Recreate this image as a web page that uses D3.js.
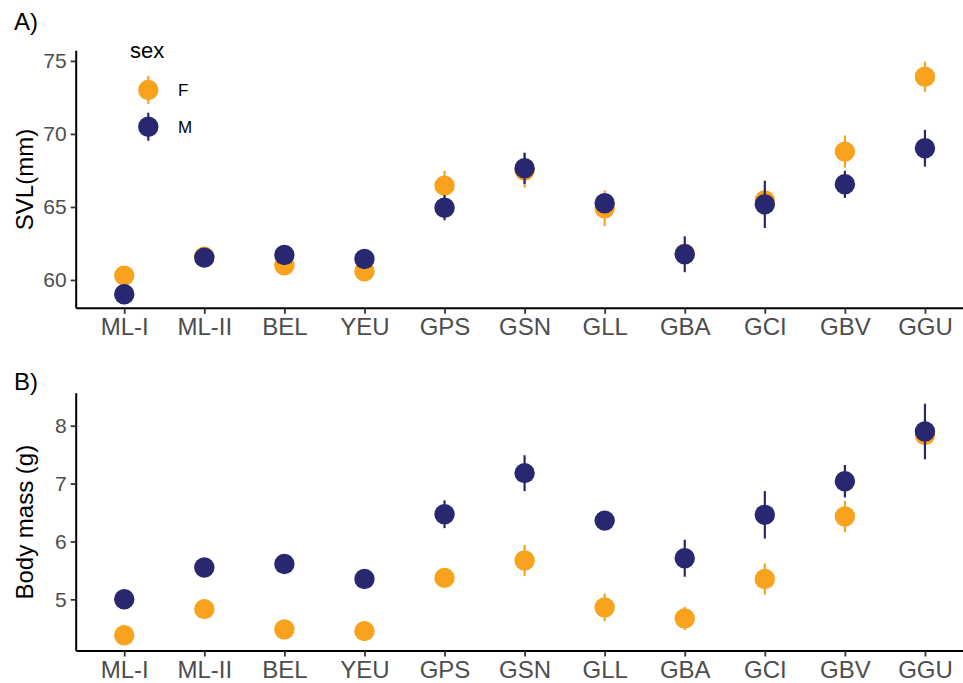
<!DOCTYPE html>
<html>
<head>
<meta charset="utf-8">
<script src="https://cdn.jsdelivr.net/npm/d3@7"></script>
<style>
  body { margin: 0; background: #fff; }
  svg { display: block; font-family: "Liberation Sans", Arial, Helvetica, sans-serif; }
</style>
</head>
<body>
<svg id="chart" width="963" height="683"></svg>
<script>
// populations on the x axis
var pops = ["ML-I", "ML-II", "BEL", "YEU", "GPS", "GSN", "GLL", "GBA", "GCI", "GBV", "GGU"]

// A) SVL (mm): means and half width of the bars
var svlF   = [60.3, 61.6, 61.0, 60.6, 66.46, 67.49, 64.91, 61.8, 65.45, 68.79, 73.92]
var svlFe  = [0.4, 0.4, 0.4, 0.4, 1.0, 1.17, 1.22, 0.5, 0.5, 1.1, 1.03]
var svlM   = [59.02, 61.53, 61.71, 61.44, 64.95, 67.65, 65.25, 61.76, 65.18, 66.55, 69.02]
var svlMe  = [0.4, 0.4, 0.4, 0.4, 0.86, 1.07, 0.5, 1.23, 1.62, 0.93, 1.26]

// B) Body mass (g)
var massF  = [4.38, 4.83, 4.48, 4.45, 5.37, 5.67, 4.86, 4.67, 5.35, 6.43, 7.84]
var massFe = [0.1, 0.1, 0.1, 0.1, 0.1, 0.27, 0.24, 0.2, 0.27, 0.27, 0.15]
var massM  = [5.0, 5.55, 5.61, 5.35, 6.47, 7.18, 6.36, 5.71, 6.46, 7.04, 7.90]
var massMe = [0.1, 0.1, 0.1, 0.1, 0.24, 0.31, 0.1, 0.32, 0.41, 0.28, 0.48]

var svlTicks = [60, 65, 70, 75]
var massTicks = [5, 6, 7, 8]

var sexes = ["F", "M"]
var color = d3.scaleOrdinal().domain(sexes).range(["#F9A21E", "#27286F"])

var svg = d3.select("#chart")

var x = d3.scalePoint()
  .domain(pops)
  .range([76.2, 973])
  .padding(0.6)

function panel(tag, yTitle, domain, top, bottom, ticks, fVals, fErr, mVals, mErr, tagY) {
  var y = d3.scaleLinear().domain(domain).range([bottom, top])
  var g = svg.append("g")

  // points + error bars, F first so M sits on top
  var series = [
    { sex: "F", v: fVals, e: fErr },
    { sex: "M", v: mVals, e: mErr }
  ]
  series.forEach(function(s) {
    var rows = pops.map(function(p, i) { return { pop: p, v: s.v[i], e: s.e[i] } })
    var sg = g.append("g")
    sg.selectAll("line")
      .data(rows)
      .enter()
      .append("line")
        .attr("x1", function(d) { return x(d.pop) })
        .attr("x2", function(d) { return x(d.pop) })
        .attr("y1", function(d) { return y(d.v - d.e) })
        .attr("y2", function(d) { return y(d.v + d.e) })
        .attr("stroke", color(s.sex))
        .attr("stroke-width", 2.2)
    sg.selectAll("circle")
      .data(rows)
      .enter()
      .append("circle")
        .attr("cx", function(d) { return x(d.pop) })
        .attr("cy", function(d) { return y(d.v) })
        .attr("r", 10.2)
        .attr("fill", color(s.sex))
  })

  // x axis
  var xa = g.append("g")
    .attr("transform", "translate(0," + bottom + ")")
    .call(d3.axisBottom(x).tickSize(5.5).tickPadding(3))
  xa.select(".domain").attr("d", "M76.2,0H973").attr("stroke", "#000").attr("stroke-width", 2)
  xa.selectAll(".tick line").attr("stroke", "#333").attr("stroke-width", 1.8)
  xa.selectAll(".tick text")
    .attr("fill", "#4D4D4D")
    .style("font-size", "24px")
    .attr("dy", "0.75em")

  // y axis
  var ya = g.append("g")
    .attr("transform", "translate(76.2,0)")
    .call(d3.axisLeft(y).tickValues(ticks).tickFormat(d3.format("d")).tickSize(5.5).tickPadding(4))
  ya.select(".domain").attr("d", "M0," + top + "V" + bottom).attr("stroke", "#000").attr("stroke-width", 2)
  ya.selectAll(".tick line").attr("stroke", "#333").attr("stroke-width", 1.8)
  ya.selectAll(".tick text")
    .attr("fill", "#4D4D4D")
    .style("font-size", "21px")

  // y title
  g.append("text")
    .attr("transform", "translate(33," + ((top + bottom) / 2) + ") rotate(-90)")
    .attr("text-anchor", "middle")
    .style("font-size", "24px")
    .attr("fill", "#000")
    .text(yTitle)

  // panel tag
  g.append("text")
    .attr("x", 14)
    .attr("y", tagY)
    .style("font-size", "24px")
    .attr("fill", "#000")
    .text(tag)
}

panel("A)", "SVL(mm)", [58.06, 75.7], 50.7, 308.3, svlTicks, svlF, svlFe, svlM, svlMe, 30)
panel("B)", "Body mass (g)", [4.107, 8.56], 393.3, 651, massTicks, massF, massFe, massM, massMe, 390)

// legend
var leg = svg.append("g")
leg.append("text")
  .attr("x", 130)
  .attr("y", 58)
  .style("font-size", "22px")
  .attr("fill", "#000")
  .text("sex")

var size = 36.7
leg.selectAll("keylines")
  .data(sexes)
  .enter()
  .append("line")
    .attr("x1", 148.3)
    .attr("x2", 148.3)
    .attr("y1", function(d, i) { return 90 + i * size - 14 })
    .attr("y2", function(d, i) { return 90 + i * size + 14 })
    .attr("stroke", function(d) { return color(d) })
    .attr("stroke-width", 2.2)
leg.selectAll("keydots")
  .data(sexes)
  .enter()
  .append("circle")
    .attr("cx", 148.3)
    .attr("cy", function(d, i) { return 90 + i * size })
    .attr("r", 10.2)
    .attr("fill", function(d) { return color(d) })
leg.selectAll("keylabels")
  .data(sexes)
  .enter()
  .append("text")
    .attr("x", 178)
    .attr("y", function(d, i) { return 90 + i * size + 6.3 })
    .style("font-size", "17px")
    .attr("fill", "#000")
    .text(function(d) { return d })
</script>
</body>
</html>
